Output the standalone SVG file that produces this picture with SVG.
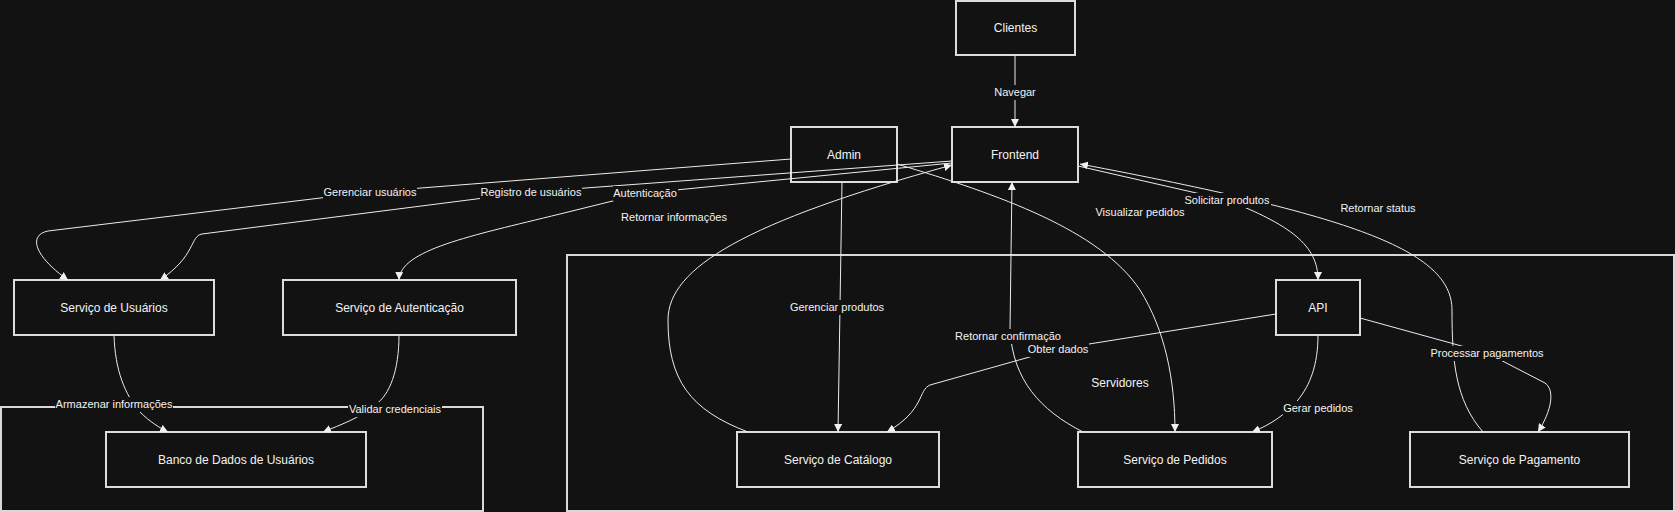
<svg xmlns="http://www.w3.org/2000/svg" width="1675" height="512" viewBox="0 0 1675 512">
<defs>
<marker id="arr" viewBox="0 0 10 10" refX="10" refY="5" markerWidth="8" markerHeight="8" markerUnits="userSpaceOnUse" orient="auto">
<path d="M0,0 L10,5 L0,10 z" fill="#f0f0f0"/>
</marker>
</defs>
<style>
.bg{fill:#121212}
.cluster{fill:#121212;stroke:#d8d8d8;stroke-width:2}
.node rect{fill:#121212;stroke:#dcdcdc;stroke-width:2}
.node text{fill:#f2f2f2;font-family:"Liberation Sans",Arial,sans-serif;font-size:12px;text-anchor:middle;dominant-baseline:central}
.edge{fill:none;stroke:#ececec;stroke-width:1;marker-end:url(#arr)}
.lbl rect{fill:#121212}
.lbl text{fill:#f2f2f2;font-family:"Liberation Sans",Arial,sans-serif;font-size:11px;text-anchor:middle;dominant-baseline:central}
.ctitle{fill:#f2f2f2;font-family:"Liberation Sans",Arial,sans-serif;font-size:12px;text-anchor:middle;dominant-baseline:central}
</style>
<rect class="bg" x="0" y="0" width="1675" height="512"/>

<g id="clusters">
<rect id="cluster-db" class="cluster" x="1" y="407" width="482" height="104"/>
<g id="cluster-servidores">
<rect class="cluster" x="567" y="255" width="1107" height="256"/>
<text class="ctitle" x="1120" y="383">Servidores</text>
</g>
</g>

<g id="nodes">
<g id="clientes" class="node"><rect x="956" y="1" width="119" height="54"/><text x="1015.5" y="28">Clientes</text></g>
<g id="admin" class="node"><rect x="791" y="127" width="106" height="55"/><text x="844" y="154.5">Admin</text></g>
<g id="frontend" class="node"><rect x="952" y="127" width="126" height="55"/><text x="1015" y="154.5">Frontend</text></g>
<g id="usuarios" class="node"><rect x="14" y="280" width="200" height="55"/><text x="114" y="307.5">Serviço de Usuários</text></g>
<g id="autenticacao" class="node"><rect x="283" y="280" width="233" height="55"/><text x="399.5" y="307.5">Serviço de Autenticação</text></g>
<g id="banco" class="node"><rect x="106" y="432" width="260" height="55"/><text x="236" y="459.5">Banco de Dados de Usuários</text></g>
<g id="api" class="node"><rect x="1276" y="280" width="84" height="55"/><text x="1318" y="307.5">API</text></g>
<g id="catalogo" class="node"><rect x="737" y="432" width="202" height="55"/><text x="838" y="459.5">Serviço de Catálogo</text></g>
<g id="pedidos" class="node"><rect x="1078" y="432" width="194" height="55"/><text x="1175" y="459.5">Serviço de Pedidos</text></g>
<g id="pagamento" class="node"><rect x="1410" y="432" width="219" height="55"/><text x="1519.5" y="459.5">Serviço de Pagamento</text></g>
</g>

<g id="connectors">
<path class="edge" d="M1015,55 L1015,127"/>
<path class="edge" d="M791,159 L370,192 L48,231 C28,235 34,256 68,280"/>
<path class="edge" d="M952,161 L531,192 L202,234 C190,236 196,256 160,280"/>
<path class="edge" d="M952,163 L645,193 L560,214 C470,236 400,250 399,280"/>
<path class="edge" d="M748,432 C690,410 668,380 668,320 C668,268 745,222 952,165"/>
<path class="edge" d="M842,182 L838,432"/>
<path class="edge" d="M897,164 C1000,195 1100,230 1140,290 C1165,330 1175,380 1175,432"/>
<path class="edge" d="M1078,166 L1227,200 C1290,225 1318,245 1318,280"/>
<path class="edge" d="M1483,432 C1455,400 1452,360 1452,310 C1452,250 1350,215 1080,164"/>
<path class="edge" d="M1083,432 C1040,410 1013,380 1010,330 L1012,182"/>
<path class="edge" d="M1276,314 L1058,349 L930,385 C918,390 925,410 887,432"/>
<path class="edge" d="M1318,335 C1318,365 1310,385 1298,400 C1285,415 1270,425 1252,432"/>
<path class="edge" d="M1360,318 L1487,353 L1545,383 C1555,390 1552,410 1538,432"/>
<path class="edge" d="M114,335 C115,370 125,395 140,412 C150,422 160,428 168,432"/>
<path class="edge" d="M399,335 C399,370 390,395 375,405 C360,418 340,425 323,432"/>
</g>

<g id="edge-labels">
<g class="lbl"><rect x="993" y="85" width="45" height="15"/><text x="1015" y="92">Navegar</text></g>
<g class="lbl"><rect x="323" y="185" width="94" height="15"/><text x="370" y="192">Gerenciar usuários</text></g>
<g class="lbl"><rect x="480" y="185" width="102" height="15"/><text x="531" y="192">Registro de usuários</text></g>
<g class="lbl"><rect x="613" y="186" width="65" height="15"/><text x="645" y="193">Autenticação</text></g>
<g class="lbl"><rect x="620" y="210" width="109" height="15"/><text x="674" y="217">Retornar informações</text></g>
<g class="lbl"><rect x="791" y="300" width="94" height="15"/><text x="837" y="307">Gerenciar produtos</text></g>
<g class="lbl"><rect x="1095" y="205" width="91" height="15"/><text x="1140" y="212">Visualizar pedidos</text></g>
<g class="lbl"><rect x="1184" y="193" width="87" height="15"/><text x="1227" y="200">Solicitar produtos</text></g>
<g class="lbl"><rect x="1340" y="201" width="77" height="15"/><text x="1378" y="208">Retornar status</text></g>
<g class="lbl"><rect x="954" y="329" width="108" height="15"/><text x="1008" y="336">Retornar confirmação</text></g>
<g class="lbl"><rect x="1027" y="342" width="62" height="15"/><text x="1058" y="349">Obter dados</text></g>
<g class="lbl"><rect x="1430" y="346" width="115" height="15"/><text x="1487" y="353">Processar pagamentos</text></g>
<g class="lbl"><rect x="1283" y="401" width="71" height="15"/><text x="1318" y="408">Gerar pedidos</text></g>
<g class="lbl"><rect x="55" y="397" width="118" height="15"/><text x="114" y="404">Armazenar informações</text></g>
<g class="lbl"><rect x="348" y="402" width="94" height="15"/><text x="395" y="409">Validar credenciais</text></g>
</g>
</svg>
